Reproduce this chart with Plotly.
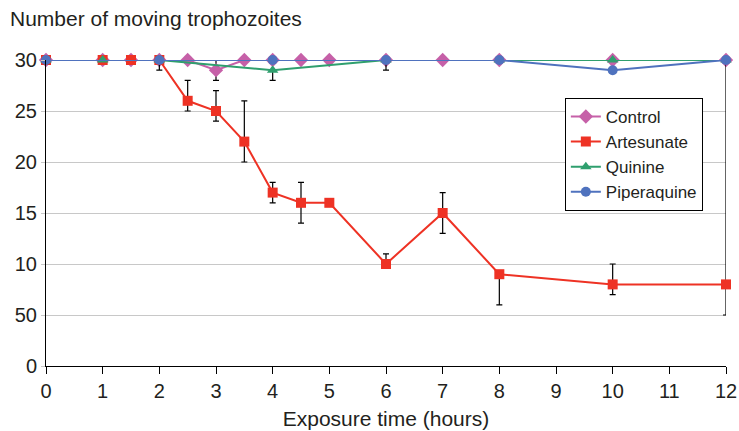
import plotly.graph_objects as go

# Data
ctrl_x = [0, 1, 1.5, 2, 2.5, 3, 3.5, 4, 4.5, 5, 6, 7, 8, 10, 12]
ctrl_y = [30, 30, 30, 30, 30, 29, 30, 30, 30, 30, 30, 30, 30, 30, 30]
ctrl_ep = [0, 0, 0, 0, 0, 1, 0, 0, 0, 0, 0, 0, 0, 0, 0]
ctrl_em = [0, 0, 0, 0, 0, 1, 0, 0, 0, 0, 0, 0, 0, 0, 0]

art_x = [0, 1, 1.5, 2, 2.5, 3, 3.5, 4, 4.5, 5, 6, 7, 8, 10, 12]
art_y = [30, 30, 30, 30, 26, 25, 22, 17, 16, 16, 10, 15, 9, 8, 8]
art_ep = [0, 0, 0, 0, 2, 2, 4, 1, 2, 0, 1, 2, 0, 2, 22]
art_em = [0, 0, 0, 1, 1, 1, 2, 1, 2, 0, 0, 2, 3, 1, 3]

qui_x = [0, 1, 2, 4, 6, 8, 10, 12]
qui_y = [30, 30, 30, 29, 30, 30, 30, 30]
qui_ep = [0, 0, 0, 0, 0, 0, 0, 0]
qui_em = [0, 0, 0, 1, 0, 0, 0, 0]

pip_x = [0, 2, 4, 6, 8, 10, 12]
pip_y = [30, 30, 30, 30, 30, 29, 30]
pip_ep = [0, 0, 0, 0, 0, 0, 0]
pip_em = [0, 0, 0, 1, 0, 0, 0]

y_tickvals = [0, 5, 10, 15, 20, 25, 30]
y_ticktext = ["0", "50", "10", "15", "20", "25", "30"]
x_tickvals = list(range(0, 13))

FONT = "Liberation Sans, Arial, sans-serif"

def err(ep, em):
    return dict(type="data", symmetric=False, array=ep, arrayminus=em,
                color="black", thickness=1.2, width=3)

fig = go.Figure()
series = [
    ("Control", ctrl_x, ctrl_y, ctrl_ep, ctrl_em, "#C660A8", "diamond", 11),
    ("Artesunate", art_x, art_y, art_ep, art_em, "#EE3224", "square", 10),
    ("Quinine", qui_x, qui_y, qui_ep, qui_em, "#2F9F6E", "triangle-up", 10),
    ("Piperaquine", pip_x, pip_y, pip_ep, pip_em, "#4F72BE", "circle", 10),
]
for name, x, y, ep, em, col, sym, sz in series:
    fig.add_trace(go.Scatter(
        x=x, y=y, name=name, mode="lines+markers",
        line=dict(color=col, width=2),
        marker=dict(color=col, symbol=sym, size=sz),
        error_y=err(ep, em), cliponaxis=False,
    ))

fig.update_layout(
    width=739, height=431,
    margin=dict(l=46, r=13, t=60, b=65, autoexpand=False),
    paper_bgcolor="white", plot_bgcolor="white",
    font=dict(family=FONT, size=20, color="#231F20"),
    showlegend=True,
    legend=dict(x=0.763, y=0.876, xanchor="left", yanchor="top",
                bordercolor="black", borderwidth=1, bgcolor="white",
                font=dict(size=17), tracegroupgap=0),
    xaxis=dict(range=[0, 12], tickvals=x_tickvals, showgrid=False, automargin=False,
               showline=True, linecolor="black", linewidth=1,
               ticks="outside", ticklen=7, tickcolor="black",
               tickfont=dict(size=20), zeroline=False,
               title=dict(text="Exposure time (hours)", font=dict(size=21), standoff=10)),
    yaxis=dict(range=[0, 30], tickvals=y_tickvals, ticktext=y_ticktext, automargin=False,
               showgrid=True, gridcolor="#C8C8C8", gridwidth=1,
               showline=True, linecolor="black", linewidth=1,
               ticks="outside", ticklen=4, tickcolor="#C8C8C8",
               tickfont=dict(size=20), zeroline=False),
    annotations=[dict(text="Number of moving trophozoites", xref="paper", yref="paper",
                      x=-38/680, y=1 + 42/306, xanchor="left", yanchor="middle",
                      showarrow=False, font=dict(size=21))],
)

fig.write_html(
    "out.html",
    config={"displayModeBar": False},
    post_script="document.body.style.margin='0';document.body.style.overflow='hidden';",
)
